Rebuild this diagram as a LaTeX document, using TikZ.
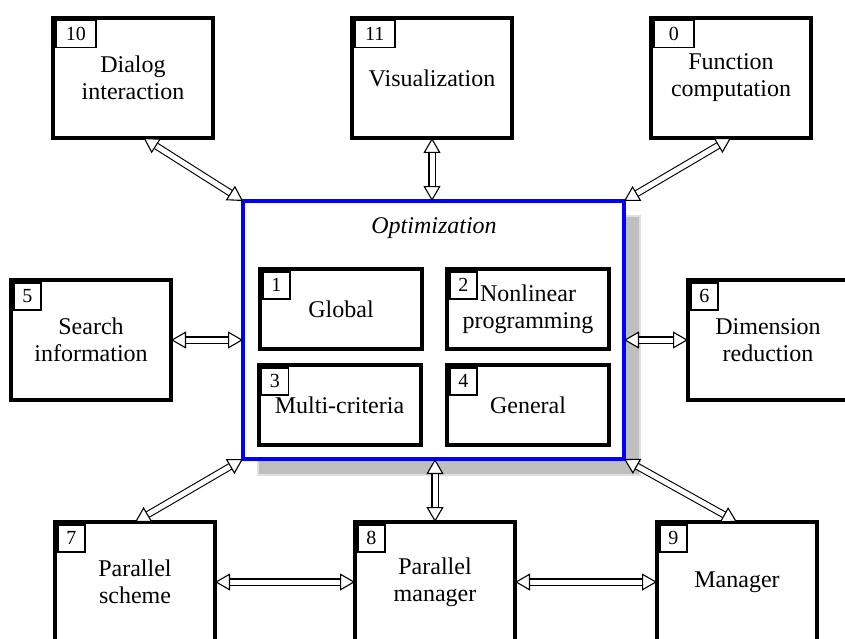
\documentclass[tikz,border=0pt]{standalone}
\usepackage{fontspec}
\setmainfont{Liberation Serif}
\usetikzlibrary{arrows.meta}
\tikzset{
  bigbox/.style={draw, line width=4pt, fill=white, outer sep=0pt,
    minimum width=160pt, minimum height=120pt, align=center,
    font=\fontsize{24}{27}\selectfont},
  inbox/.style={draw, line width=4pt, fill=white, outer sep=0pt,
    minimum width=162pt, minimum height=80pt, align=center,
    font=\fontsize{24}{27}\selectfont},
  numbox/.style={draw, line width=1.5pt, fill=white, outer sep=0pt,
    anchor=north west, inner sep=0pt, minimum width=27pt, minimum height=27pt,
    font=\fontsize{20}{20}\selectfont},
  widenum/.style={numbox, minimum width=40pt},
  dblarrow/.style={double, double distance=5pt, line width=1.1pt,
    {Triangle[fill=white, width=17pt, length=15pt]}-{Triangle[fill=white, width=17pt, length=15pt]}}
}
\begin{document}
\begin{tikzpicture}[x=1pt, y=-1pt]
        \useasboundingbox (0,0) rectangle (845,639);
        % shadow and central block
        \fill[gray!50, draw=gray!25, line width=1.5pt] (258,216) rectangle (640,475);
        \node[draw=blue, line width=4pt, fill=white, outer sep=0pt,
          minimum width=381pt, minimum height=258pt] (opt) at (433.5,330) {};
        \node[font=\fontsize{24}{27}\selectfont\itshape] (title) at (434,228) {Optimization};
        \node[inbox] (b1) at (341,309) {Global};
        \node[inbox] (b2) at (528,309) {Nonlinear\\programming};
        \node[inbox] (b3) at (339.5,405) {Multi-criteria};
        \node[inbox] (b4) at (528,405) {General};
        \node[numbox] (n1) at ([shift={(2.75,2.75)}]b1.north west) {1};
        \node[numbox] (n2) at ([shift={(2.75,2.75)}]b2.north west) {2};
        \node[numbox] (n3) at ([shift={(2.75,2.75)}]b3.north west) {3};
        \node[numbox] (n4) at ([shift={(2.75,2.75)}]b4.north west) {4};
        % outer blocks
        \node[bigbox] (b10) at (133,78) {Dialog\\interaction};
        \node[bigbox] (b11) at (432,78) {Visualization};
        \node[bigbox] (b0) at (731,78) {Function\\computation};
        \node[bigbox] (b5) at (91,340) {Search\\information};
        \node[bigbox] (b6) at (768,340) {Dimension\\reduction};
        \node[bigbox] (b7) at (135,582) {Parallel\\scheme};
        \node[bigbox] (b8) at (435,582) {Parallel\\manager};
        \node[bigbox] (b9) at (737,582) {Manager};
        \node[widenum] (n10) at ([shift={(2.75,2.75)}]b10.north west) {10};
        \node[widenum] (n11) at ([shift={(2.75,2.75)}]b11.north west) {11};
        \node[widenum] (n0) at ([shift={(2.75,2.75)}]b0.north west) {0};
        \node[numbox] (n5) at ([shift={(2.75,2.75)}]b5.north west) {5};
        \node[numbox] (n6) at ([shift={(2.75,2.75)}]b6.north west) {6};
        \node[numbox] (n7) at ([shift={(2.75,2.75)}]b7.north west) {7};
        \node[numbox] (n8) at ([shift={(2.75,2.75)}]b8.north west) {8};
        \node[numbox] (n9) at ([shift={(2.75,2.75)}]b9.north west) {9};
        % links
        \draw[dblarrow] (b10.-80) -- (opt.north west);
        \draw[dblarrow] (b11.south) -- (b11.south |- opt.north);
        \draw[dblarrow] (b0.south) -- (opt.north east);
        \draw[dblarrow] (b5.east) -- (b5.east -| opt.west);
        \draw[dblarrow] (b6.west -| opt.east) -- (b6.west);
        \draw[dblarrow] (opt.south west) -- (b7.north);
        \draw[dblarrow] (b8.north |- opt.south) -- (b8.north);
        \draw[dblarrow] (opt.south east) -- (b9.north);
        \draw[dblarrow] (b7.east) -- (b8.west);
        \draw[dblarrow] (b8.east) -- (b9.west);
      \end{tikzpicture}
\end{document}
